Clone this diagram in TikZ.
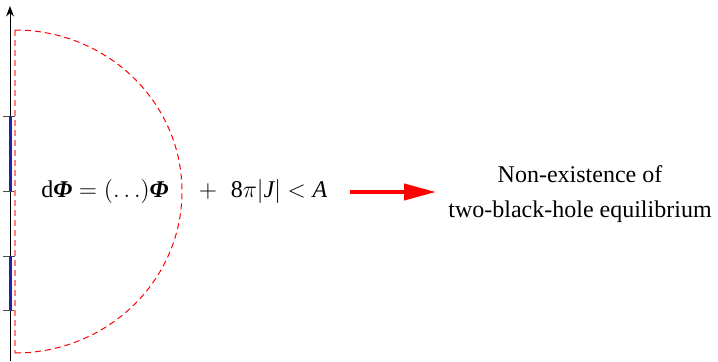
\documentclass[tikz,border=0pt]{standalone}
\usepackage{amsmath}
\usepackage[no-math]{fontspec}
\setmainfont{Liberation Serif}
\usetikzlibrary{arrows.meta}
\definecolor{segblue}{RGB}{35,35,165}
\newcommand{\bPhi}{\textbf{\textit{Φ}}}
\begin{document}
\begin{tikzpicture}[x=0.5pt, y=0.5pt, >=Stealth, every node/.style={font=\large, inner sep=0pt}]
	\useasboundingbox (0,0) rectangle (718,361);
	% 对称轴
	\draw[->, line width=0.5pt] (10,0) -- (10,355);
	% 刻度与视界段
	\foreach \h in {51,105,170,245}
		\draw[gray!60!black, line width=0.5pt] (3,\h) -- (15,\h);
	\draw[segblue, line width=1.5pt] (10,170) -- (10,245);
	\draw[segblue, line width=1.5pt] (10,51) -- (10,105);
	
	% 虚线边界（半圆）
	\draw[red!50, dash pattern=on 3pt off 2pt, line width=0.9pt] (15,331) -- (15,8);
	\draw[red, dash pattern=on 3pt off 2pt, line width=0.5pt] (15,331) arc[start angle=90, end angle=-90, x radius=167, y radius=161.5];
	
	% 方程与不等式
	\node[anchor=base] (eq) at (105,164) {$\text{d}\bPhi=(\ldots)\bPhi$};
	\node[anchor=base] (plus) at (208,164) {$+$};
	\node[anchor=base] (ineq) at (279,164) {$\text{8}\pi|\textit{J}|<\textit{A}$};
	
	% 结论
	\coordinate (arrS) at (350,169);
	\coordinate (arrE) at (436,169);
	\draw[red, line width=2pt, -{Triangle[length=16pt, width=8pt]}] (arrS) -- (arrE);
	\node[align=center] (concl) at (580,167) {Non-existence of\\[3.5pt]two-black-hole equilibrium};
\end{tikzpicture}
\end{document}
